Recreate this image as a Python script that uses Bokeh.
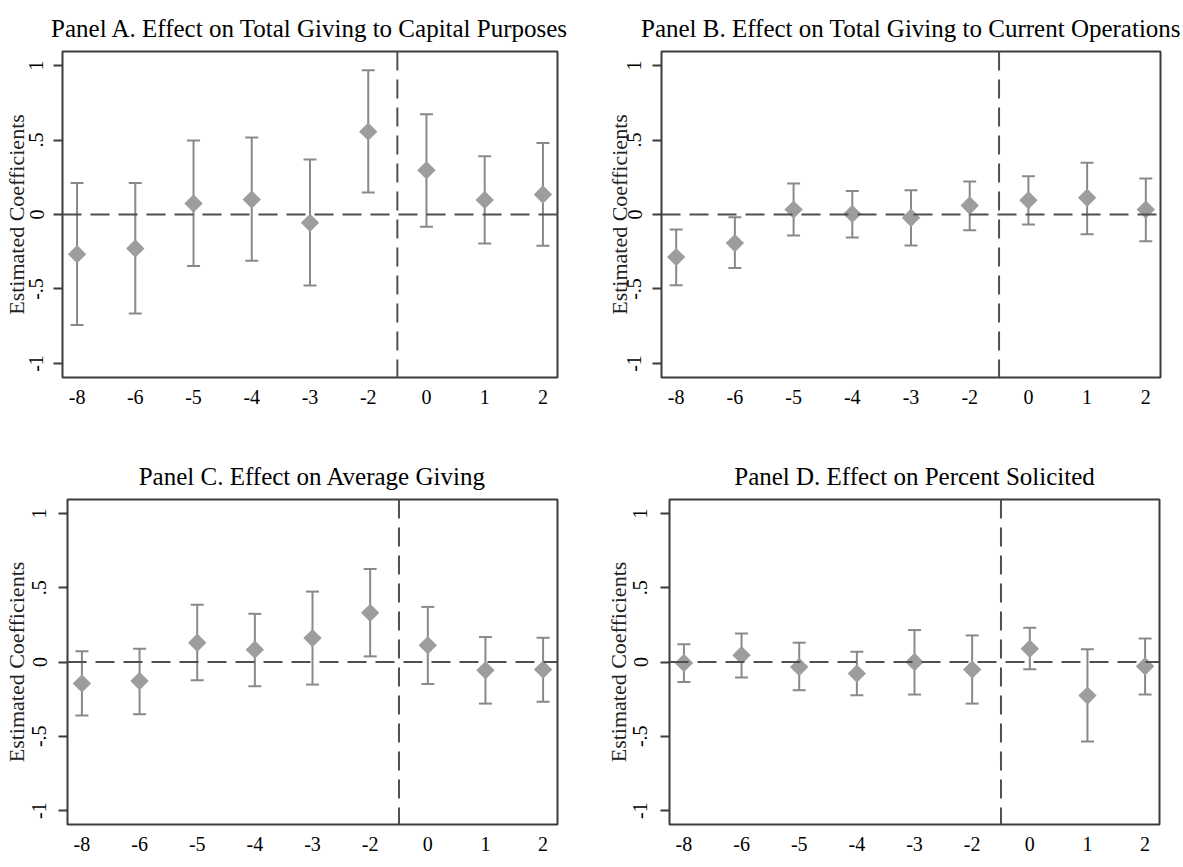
from bokeh.plotting import figure
from bokeh.models import ColumnDataSource, Whisker, TeeHead, Span, FixedTicker
from bokeh.layouts import column, row
from bokeh.embed import file_html
from bokeh.resources import INLINE

# ---------------- data ----------------
periods = ["-8", "-6", "-5", "-4", "-3", "-2", "0", "1", "2"]

a_title = "Panel A. Effect on Total Giving to Capital Purposes"
a_coef = [-0.266, -0.228, 0.074, 0.100, -0.056, 0.556, 0.297, 0.098, 0.134]
a_lo = [-0.742, -0.664, -0.346, -0.311, -0.476, 0.147, -0.083, -0.194, -0.210]
a_hi = [0.212, 0.212, 0.496, 0.516, 0.369, 0.968, 0.673, 0.391, 0.480]

b_title = "Panel B. Effect on Total Giving to Current Operations"
b_coef = [-0.286, -0.192, 0.033, 0.004, -0.022, 0.060, 0.096, 0.112, 0.033]
b_lo = [-0.475, -0.359, -0.141, -0.154, -0.208, -0.105, -0.067, -0.132, -0.179]
b_hi = [-0.100, -0.018, 0.208, 0.158, 0.163, 0.221, 0.257, 0.348, 0.241]

c_title = "Panel C. Effect on Average Giving"
c_coef = [-0.145, -0.128, 0.130, 0.083, 0.161, 0.331, 0.112, -0.056, -0.051]
c_lo = [-0.360, -0.351, -0.123, -0.163, -0.152, 0.038, -0.148, -0.280, -0.268]
c_hi = [0.072, 0.089, 0.385, 0.324, 0.474, 0.626, 0.371, 0.168, 0.163]

d_title = "Panel D. Effect on Percent Solicited"
d_coef = [-0.007, 0.045, -0.034, -0.078, 0.000, -0.051, 0.089, -0.226, -0.029]
d_lo = [-0.134, -0.105, -0.190, -0.224, -0.219, -0.280, -0.049, -0.535, -0.219]
d_hi = [0.119, 0.192, 0.130, 0.069, 0.215, 0.179, 0.230, 0.085, 0.159]

y_ticks = [-1, -0.5, 0, 0.5, 1]
y_tick_labels = ["-1", "-.5", "0", ".5", "1"]
y_label = "Estimated Coefficients"
ref_value = 0
event_period = "0"

# ---------------- style ----------------
FONT = "Liberation Serif"
MARKER = "#9d9d9d"
BAR = "#898989"
DASH = "#4f4f4f"
FRAME = "#3c3c3c"


def make_panel(title, coef, lo, hi, width, height, bl, br, bt, bb,
               label_standoff, tick_standoff):
    xs = list(range(len(periods)))
    p = figure(width=width, height=height, output_backend="svg",
               toolbar_location=None,
               x_range=(-0.25, len(periods) - 0.75), y_range=(-1.094, 1.094),
               min_border_left=bl, min_border_right=br,
               min_border_top=bt, min_border_bottom=bb)
    p.background_fill_color = "white"
    p.border_fill_color = "white"
    p.outline_line_color = FRAME
    p.outline_line_width = 2
    p.xgrid.visible = False
    p.ygrid.visible = False

    src = ColumnDataSource(dict(x=xs, coef=coef, lo=lo, hi=hi))

    # reference lines
    boundary = periods.index(event_period) - 0.5
    p.add_layout(Span(location=ref_value, dimension="width", line_color=DASH,
                      line_width=2, line_dash="19 9"))
    p.add_layout(Span(location=boundary, dimension="height", line_color=DASH,
                      line_width=2, line_dash="19 9"))

    # confidence intervals
    w = Whisker(base="x", upper="hi", lower="lo", source=src,
                dimension="height", line_color=BAR, line_width=2,
                upper_head=TeeHead(size=13, line_color=BAR, line_width=2),
                lower_head=TeeHead(size=13, line_color=BAR, line_width=2))
    p.add_layout(w)

    # point estimates (diamonds)
    p.scatter("x", "coef", source=src, marker="square", angle=0.785398,
              size=13, fill_color=MARKER, line_color=None)

    # x axis
    p.xaxis.ticker = FixedTicker(ticks=xs)
    p.xaxis.major_label_overrides = {i: s for i, s in zip(xs, periods)}
    p.xaxis.major_tick_line_color = None
    p.xaxis.minor_tick_line_color = None
    p.xaxis.axis_line_color = None
    p.xaxis.major_label_text_font = FONT
    p.xaxis.major_label_text_font_size = "20px"
    p.xaxis.major_label_text_color = "black"
    p.xaxis.major_label_standoff = 6

    # y axis
    p.yaxis.ticker = FixedTicker(ticks=y_ticks)
    p.yaxis.major_label_overrides = {t: s for t, s in zip(y_ticks, y_tick_labels)}
    p.yaxis.major_label_orientation = "vertical"
    p.yaxis.minor_tick_line_color = None
    p.yaxis.axis_line_color = None
    p.yaxis.major_tick_out = 9
    p.yaxis.major_tick_in = 0
    p.yaxis.major_tick_line_color = FRAME
    p.yaxis.major_tick_line_width = 2
    p.yaxis.major_label_text_font = FONT
    p.yaxis.major_label_text_font_size = "20px"
    p.yaxis.major_label_text_color = "black"
    p.yaxis.major_label_standoff = tick_standoff
    p.yaxis.axis_label = y_label
    p.yaxis.axis_label_text_font = FONT
    p.yaxis.axis_label_text_font_size = "22px"
    p.yaxis.axis_label_text_font_style = "normal"
    p.yaxis.axis_label_text_color = "#222222"
    p.yaxis.axis_label_standoff = label_standoff

    p.title.text = title
    p.title.align = "center"
    p.title.text_font = FONT
    p.title.text_font_size = "25px"
    p.title.text_font_style = "normal"
    p.title.text_color = "black"
    p.title.standoff = 19
    return p


pA = make_panel(a_title, a_coef, a_lo, a_hi, 590, 440, 60, 33, 51, 63, -2, 10)
pB = make_panel(b_title, b_coef, b_lo, b_hi, 593, 440, 71, 23, 51, 63, -7, 11)
pC = make_panel(c_title, c_coef, c_lo, c_hi, 590, 427, 67, 33, 59, 43, 1, 12)
pD = make_panel(d_title, d_coef, d_lo, d_hi, 593, 427, 79, 24, 59, 43, 0, 13)

layout = column(row(pA, pB), row(pC, pD))
open("out.html", "w").write(file_html(layout, INLINE))
